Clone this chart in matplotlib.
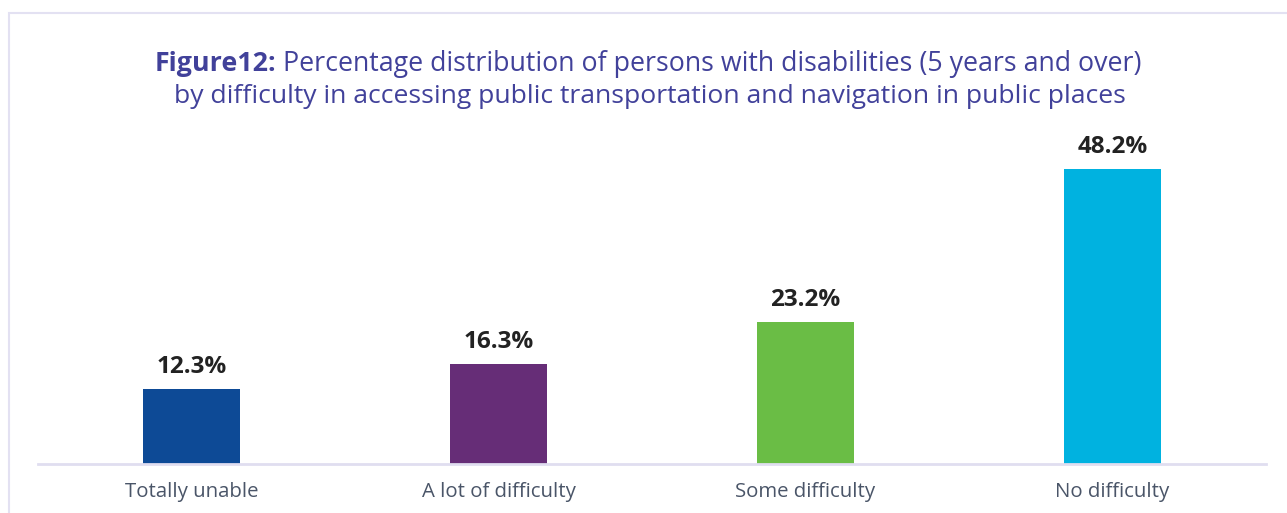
import matplotlib
matplotlib.use("Agg")
import matplotlib.pyplot as plt
from matplotlib.patches import Rectangle

# data
categories = ["Totally unable", "A lot of difficulty", "Some difficulty", "No difficulty"]
values = [12.3, 16.3, 23.2, 48.2]
colors = ["#0D4A96", "#662D77", "#6ABD45", "#00B2E0"]

title_bold = "Figure12:"
title_rest = " Percentage distribution of persons with disabilities (5 years and over)"
title_line2 = "by difficulty in accessing public transportation and navigation in public places"

W, H = 1287, 513
fig = plt.figure(figsize=(W / 100, H / 100), dpi=100)
plt.rcParams['font.family'] = ['Open Sans', 'DejaVu Sans']

# light frame around the chart
fig.patches.append(Rectangle((9 / W, -0.1), 1.2, (H - 13) / H + 0.1, transform=fig.transFigure,
                             fill=False, edgecolor="#E3E1F2", linewidth=1.5))

ax = fig.add_axes([38 / W, (H - 464) / H, (1266 - 38) / W, (464 - 140) / H])
x = range(len(categories))
bars = ax.bar(x, values, width=0.316, color=colors)
ax.set_xlim(-0.5, 3.5)
ax.set_ylim(0, 52.9)

for b, v in zip(bars, values):
    ax.annotate(f"{v}%", (b.get_x() + b.get_width() / 2, v), xytext=(0, 11.5),
                textcoords="offset points", ha="center", va="baseline",
                fontsize=17.5, fontweight="bold", color="#222222")

ax.set_xticks(list(x))
ax.set_xticklabels(categories, fontsize=14.7, color="#4A5568")
ax.tick_params(axis="x", length=0, pad=13)
ax.set_yticks([])
for s in ["top", "right", "left"]:
    ax.spines[s].set_visible(False)
ax.spines["bottom"].set_color("#E0DEF0")
ax.spines["bottom"].set_linewidth(2)

# title with a bold lead-in, centred as a whole
title_color = "#41419A"
fs = 19.3
fig.canvas.draw()
r = fig.canvas.get_renderer()
t1 = fig.text(0, 0, title_bold, fontsize=fs, fontweight="bold", color=title_color, va="baseline")
t2 = fig.text(0, 0, title_rest, fontsize=fs, color=title_color, va="baseline")
w1 = t1.get_window_extent(r).width
w2 = t2.get_window_extent(r).width
cx = 648
start = cx - (w1 + w2) / 2
y1 = (H - 71) / H
t1.set_position((start / W, y1))
t2.set_position(((start + w1) / W, y1))
fig.text(650 / W, (H - 103) / H, title_line2, fontsize=19.05, color=title_color,
         ha="center", va="baseline")

fig.savefig("out.png", dpi=100, facecolor="white")
